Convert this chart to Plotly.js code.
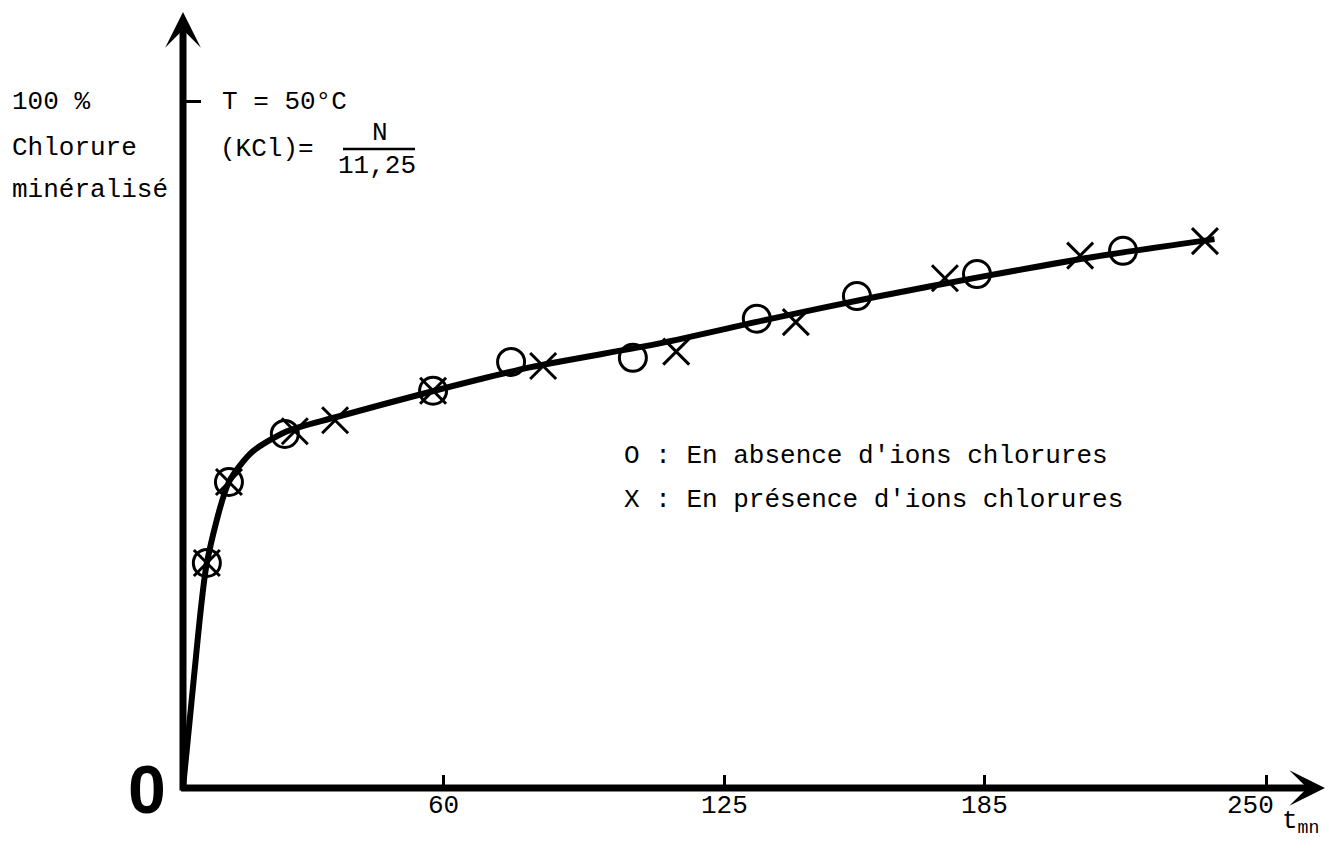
<!DOCTYPE html>
<html>
<head>
<meta charset="utf-8">
<script src="https://cdn.plot.ly/plotly-3.0.1.min.js"></script>
<style>html,body{margin:0;padding:0;background:#fff;}#chart{width:1329px;height:850px;}</style>
</head>
<body>
<div id="chart"></div>
<script>
// Data (t in minutes, % chlorure minéralisé)
const tAbsence = [5.5, 10.6, 23.5, 57.7, 75.7, 103.8, 132.4, 155.5, 183.2, 216.9];
const yAbsence = [32.8, 44.6, 51.6, 57.9, 62.1, 62.7, 68.4, 71.7, 74.9, 78.3];
const tPresence = [5.5, 10.6, 25.8, 35.1, 57.7, 83.1, 113.8, 141.4, 175.8, 207.0, 235.8];
const yPresence = [32.8, 44.6, 52.0, 53.6, 57.9, 61.5, 63.6, 67.9, 74.3, 77.6, 79.7];
const tCurve = [0, 2.5, 5.5, 10.6, 16, 24, 35, 58, 80, 110, 135, 160, 185, 210, 238];
const yCurve = [0, 16, 32.8, 44.6, 49, 52, 54, 57.9, 61.3, 64.8, 68.3, 71.6, 74.6, 77.4, 80];
const xTickVals = [60, 125, 185, 250];
const xTickText = ["60", "125", "185", "250"];
const yTickVals = [100];
const legendTexts = ["O : En absence d'ions chlorures", "X : En présence d'ions chlorures"];
const yLabelLines = ["100 %", "Chlorure", "minéralisé"];

const W = 1329, H = 850, L = 183, R = 4, T = 12, B = 62;
const PW = W - L - R, PH = H - T - B;
const px = x => (x - L) / PW;
const py = y => (H - B - y) / PH;
const mono = "Liberation Mono, Courier New, monospace";
const txtFont = {family: mono, size: 26, color: "#000"};

const traces = [
  {x: tCurve, y: yCurve, mode: "lines", type: "scatter", name: "courbe",
   line: {color: "#000", width: 6, shape: "spline", smoothing: 0.7}, hoverinfo: "skip"},
  {x: tAbsence, y: yAbsence, mode: "markers", type: "scatter", name: "En absence d'ions chlorures",
   marker: {symbol: "circle-open", size: 27, color: "#000", line: {color: "#000", width: 3}}, cliponaxis: false},
  {x: tPresence, y: yPresence, mode: "markers", type: "scatter", name: "En présence d'ions chlorures",
   marker: {symbol: "x-thin-open", size: 26, color: "#000", line: {color: "#000", width: 3}}, cliponaxis: false}
];

const ann = [];
// axes as arrows
ann.push({x: 0, y: 113.1, ax: 0, ay: -0.6, xref: "x", yref: "y", axref: "x", ayref: "y",
  showarrow: true, arrowhead: 3, arrowwidth: 7, arrowsize: 0.85, arrowcolor: "#000", text: ""});
ann.push({x: 263.5, y: 0, ax: -0.8, ay: 0, xref: "x", yref: "y", axref: "x", ayref: "y",
  showarrow: true, arrowhead: 3, arrowwidth: 7, arrowsize: 0.85, arrowcolor: "#000", text: ""});
// x tick labels (last one sits left of its tick, as in the figure)
const tickShift = [0, 0, 0, -16];
xTickVals.forEach((v, i) => ann.push({x: v, y: py(806), xref: "x", yref: "paper", xshift: tickShift[i],
  xanchor: "center", yanchor: "middle", showarrow: false, text: xTickText[i], font: txtFont}));
// y label lines
const yLabelPos = [102, 148, 190];
yLabelLines.forEach((s, i) => ann.push({x: px(10), y: py(yLabelPos[i]), xref: "paper", yref: "paper",
  xanchor: "left", yanchor: "middle", showarrow: false, text: s, font: txtFont}));
// conditions
ann.push({x: px(220), y: py(102), xref: "paper", yref: "paper", xanchor: "left", yanchor: "middle",
  showarrow: false, text: "T = 50°C", font: txtFont});
ann.push({x: px(218), y: py(149), xref: "paper", yref: "paper", xanchor: "left", yanchor: "middle",
  showarrow: false, text: "(KCl)=", font: txtFont});
ann.push({x: px(380), y: py(133), xref: "paper", yref: "paper", xanchor: "center", yanchor: "middle",
  showarrow: false, text: "N", font: txtFont});
ann.push({x: px(377), y: py(166), xref: "paper", yref: "paper", xanchor: "center", yanchor: "middle",
  showarrow: false, text: "11,25", font: txtFont});
// legend texts
const legY = [456, 500];
legendTexts.forEach((s, i) => ann.push({x: px(622), y: py(legY[i]), xref: "paper", yref: "paper",
  xanchor: "left", yanchor: "middle", showarrow: false, text: s, font: txtFont}));
// big zero
ann.push({x: px(147), y: py(789), xref: "paper", yref: "paper", xanchor: "center", yanchor: "middle",
  showarrow: false, text: "<b>0</b>", font: {family: "Liberation Sans, Arial, sans-serif", size: 68, color: "#000"}});
// t_mn
ann.push({x: px(1280), y: py(822), xref: "paper", yref: "paper", xanchor: "left", yanchor: "middle",
  showarrow: false, text: "t<sub>mn</sub>", font: txtFont});

const layout = {
  width: W, height: H,
  margin: {l: L, r: R, t: T, b: B, pad: 0},
  paper_bgcolor: "#fff", plot_bgcolor: "#fff",
  showlegend: false,
  xaxis: {range: [0, 263.5], showgrid: false, zeroline: false, showline: false,
    tickmode: "array", tickvals: xTickVals, ticktext: xTickText, showticklabels: false,
    ticks: "inside", ticklen: 13, tickwidth: 3, tickcolor: "#000", fixedrange: true},
  yaxis: {range: [0, 113.1], showgrid: false, zeroline: false, showline: false,
    tickmode: "array", tickvals: yTickVals, ticks: "inside", ticklen: 18, tickwidth: 3,
    tickcolor: "#000", showticklabels: false, fixedrange: true},
  shapes: [
    {type: "line", xref: "paper", yref: "paper", x0: px(343), x1: px(415), y0: py(149), y1: py(149),
     line: {color: "#000", width: 2.5}}
  ],
  annotations: ann
};

Plotly.newPlot("chart", traces, layout, {staticPlot: true, displayModeBar: false});
</script>
</body>
</html>
